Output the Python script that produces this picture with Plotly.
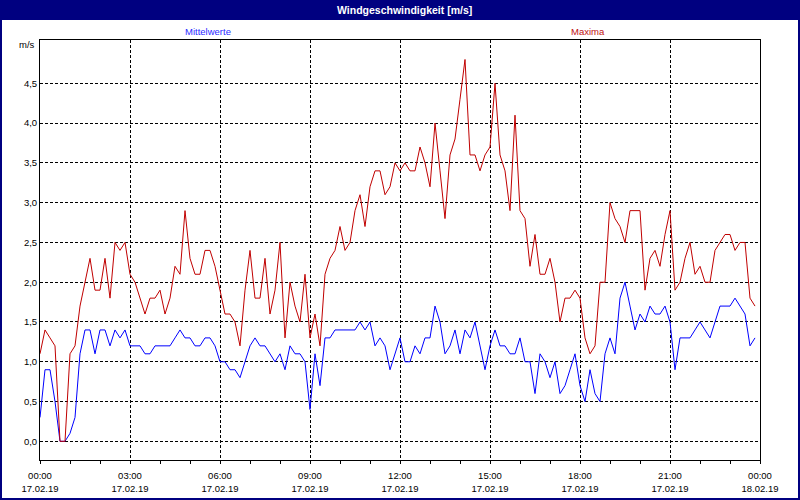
import plotly.graph_objects as go
import pandas as pd

# ---- data (10-minute samples, 17.02.19 00:00 .. 23:50) ----
times = pd.date_range("2019-02-17 00:00", periods=144, freq="10min")

maxima = [
    1.1, 1.4, 1.3, 1.2, 0.0, 0.0, 1.1, 1.2, 1.7, 2.0,
    2.3, 1.9, 1.9, 2.3, 1.8, 2.5, 2.4, 2.5, 2.1, 2.0,
    1.8, 1.6, 1.8, 1.8, 1.9, 1.6, 1.8, 2.2, 2.1, 2.9,
    2.3, 2.1, 2.1, 2.4, 2.4, 2.2, 1.9, 1.6, 1.6, 1.5,
    1.2, 1.9, 2.4, 1.8, 1.8, 2.3, 1.6, 1.9, 2.5, 1.3,
    2.0, 1.7, 1.5, 2.1, 1.3, 1.6, 1.2, 2.1, 2.3, 2.4,
    2.7, 2.4, 2.5, 2.9, 3.1, 2.7, 3.2, 3.4, 3.4, 3.1,
    3.2, 3.5, 3.4, 3.5, 3.4, 3.4, 3.7, 3.5, 3.2, 4.0,
    3.4, 2.8, 3.6, 3.8, 4.3, 4.8, 3.6, 3.6, 3.4, 3.6,
    3.7, 4.5, 3.6, 3.4, 2.9, 4.1, 2.9, 2.8, 2.2, 2.6,
    2.1, 2.1, 2.3, 2.0, 1.5, 1.8, 1.8, 1.9, 1.8, 1.3,
    1.1, 1.2, 2.0, 2.0, 3.0, 2.8, 2.7, 2.5, 2.9, 2.9,
    2.9, 1.9, 2.3, 2.4, 2.2, 2.6, 2.9, 1.9, 2.0, 2.3,
    2.5, 2.1, 2.2, 2.0, 2.0, 2.4, 2.5, 2.6, 2.6, 2.4,
    2.5, 2.5, 1.8, 1.7,
]

mittelwerte = [
    0.3, 0.9, 0.9, 0.5, 0.0, 0.0, 0.1, 0.3, 1.1, 1.4,
    1.4, 1.1, 1.4, 1.4, 1.2, 1.4, 1.3, 1.4, 1.2, 1.2,
    1.2, 1.1, 1.1, 1.2, 1.2, 1.2, 1.2, 1.3, 1.4, 1.3,
    1.3, 1.2, 1.2, 1.3, 1.3, 1.2, 1.0, 1.0, 0.9, 0.9,
    0.8, 1.0, 1.2, 1.3, 1.2, 1.2, 1.1, 1.0, 1.1, 0.9,
    1.2, 1.1, 1.1, 1.0, 0.4, 1.1, 0.7, 1.3, 1.3, 1.4,
    1.4, 1.4, 1.4, 1.4, 1.5, 1.4, 1.5, 1.2, 1.3, 1.2,
    0.9, 1.1, 1.3, 1.0, 1.0, 1.2, 1.1, 1.3, 1.3, 1.7,
    1.5, 1.1, 1.2, 1.4, 1.1, 1.4, 1.3, 1.5, 1.2, 0.9,
    1.2, 1.4, 1.2, 1.2, 1.1, 1.1, 1.3, 1.0, 1.0, 0.6,
    1.1, 1.0, 0.8, 1.0, 0.6, 0.7, 0.9, 1.1, 0.7, 0.5,
    0.9, 0.6, 0.5, 1.1, 1.3, 1.1, 1.8, 2.0, 1.7, 1.4,
    1.6, 1.5, 1.7, 1.6, 1.6, 1.7, 1.5, 0.9, 1.3, 1.3,
    1.3, 1.4, 1.5, 1.4, 1.3, 1.5, 1.7, 1.7, 1.7, 1.8,
    1.7, 1.6, 1.2, 1.3,
]

x_tick_vals = pd.date_range("2019-02-17 00:00", "2019-02-18 00:00", freq="3h")
x_tick_text = [
    "00:00<br>17.02.19", "03:00<br>17.02.19", "06:00<br>17.02.19",
    "09:00<br>17.02.19", "12:00<br>17.02.19", "15:00<br>17.02.19",
    "18:00<br>17.02.19", "21:00<br>17.02.19", "00:00<br>18.02.19",
]
y_tick_vals = [0.0, 0.5, 1.0, 1.5, 2.0, 2.5, 3.0, 3.5, 4.0, 4.5]
y_tick_text = ["0,0", "0,5", "1,0", "1,5", "2,0", "2,5", "3,0", "3,5", "4,0", "4,5"]

title_text = "Windgeschwindigkeit [m/s]"
unit_text = "m/s"

# ---- figure ----
W, H = 800, 500
L, R, T, B = 40, 40, 40, 40
pw, ph = W - L - R, H - T - B

def px_x(p):
    return (p - L) / pw

def px_y(p):
    return (H - B - p) / ph

font_family = "Liberation Sans, Arial, sans-serif"
navy = "#000080"
blue = "#0000ff"
red = "#c00000"

fig = go.Figure()
fig.add_trace(go.Scatter(x=times, y=mittelwerte, mode="lines",
                         line=dict(color=blue, width=1), name="Mittelwerte",
                         hoverinfo="skip"))
fig.add_trace(go.Scatter(x=times, y=maxima, mode="lines",
                         line=dict(color=red, width=1), name="Maxima",
                         hoverinfo="skip"))

grid = dict(showgrid=True, gridcolor="black", gridwidth=1, griddash="3px,2px",
            showline=True, linecolor="black", linewidth=1, mirror=True,
            zeroline=False, automargin=False)

fig.update_layout(
    template="none",
    width=W, height=H, autosize=False,
    margin=dict(l=L, r=R, t=T, b=B, pad=0),
    paper_bgcolor="white", plot_bgcolor="white",
    showlegend=False,
    font=dict(family=font_family, size=10, color="black"),
    xaxis=dict(
        type="date",
        range=[x_tick_vals[0], x_tick_vals[-1]],
        tickmode="array", tickvals=x_tick_vals, ticktext=x_tick_text,
        ticks="outside", ticklen=3, tickcolor="black", tickwidth=1,
        ticklabelstandoff=4,
        tickfont=dict(size=9.5, color="black", family=font_family),
        minor=dict(tickmode="linear", tick0=x_tick_vals[0], dtick=3600000,
                   ticks="outside", ticklen=3, tickcolor="black", showgrid=False),
        fixedrange=True,
        **grid,
    ),
    yaxis=dict(
        range=[-0.235, 5.045],
        tickmode="array", tickvals=y_tick_vals, ticktext=y_tick_text,
        ticks="", tickfont=dict(size=9.5, color="black", family=font_family),
        fixedrange=True,
        **grid,
    ),
    shapes=[
        dict(type="rect", xref="paper", yref="paper",
             x0=px_x(0), x1=px_x(W), y0=px_y(20), y1=px_y(0),
             fillcolor=navy, line=dict(width=0), layer="above"),
        dict(type="rect", xref="paper", yref="paper",
             x0=px_x(1), x1=px_x(W - 1), y0=px_y(H - 1), y1=px_y(1),
             fillcolor="rgba(0,0,0,0)", line=dict(color=navy, width=2), layer="above"),
    ],
    annotations=[
        dict(text="<b>" + title_text + "</b>", xref="paper", yref="paper",
             x=px_x(404), y=px_y(10), xanchor="center", yanchor="middle",
             showarrow=False, font=dict(color="white", size=10.5, family=font_family)),
        dict(text="Mittelwerte", xref="paper", yref="paper",
             x=px_x(208), y=px_y(31), xanchor="center", yanchor="middle",
             showarrow=False, font=dict(color="#2b2bff", size=9.5, family=font_family)),
        dict(text="Maxima", xref="paper", yref="paper",
             x=px_x(588), y=px_y(31), xanchor="center", yanchor="middle",
             showarrow=False, font=dict(color="#c01010", size=9.5, family=font_family)),
        dict(text=unit_text, xref="paper", yref="paper",
             x=px_x(37), y=px_y(45), xanchor="right", yanchor="middle",
             showarrow=False, font=dict(color="black", size=9.5, family=font_family)),
    ],
)

fig.write_html("out.html", config={"displayModeBar": False, "staticPlot": True},
               post_script="document.body.style.margin='0';document.body.style.overflow='hidden';")
